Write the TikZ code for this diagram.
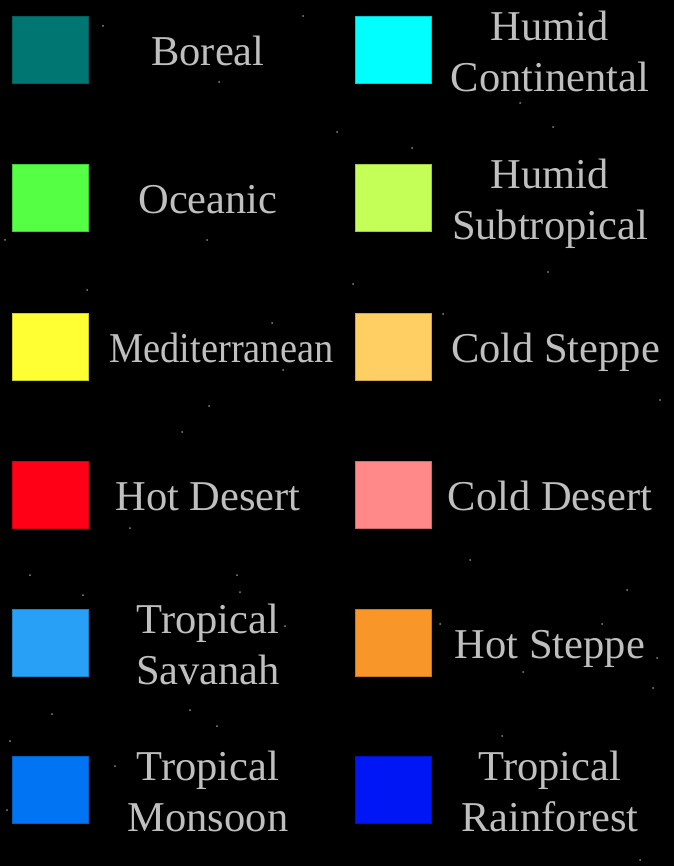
\documentclass[tikz,border=0pt]{standalone}
\usepackage{graphicx}
\usepackage{fontspec}
\setmainfont{Liberation Serif}
\usetikzlibrary{positioning}

\definecolor{boreal}{HTML}{007672}
\definecolor{humidcont}{HTML}{00FFFF}
\definecolor{oceanic}{HTML}{55FF44}
\definecolor{humidsub}{HTML}{C4FF58}
\definecolor{medit}{HTML}{FFFF33}
\definecolor{coldsteppe}{HTML}{FFCF64}
\definecolor{hotdesert}{HTML}{FF0016}
\definecolor{colddesert}{HTML}{FF8888}
\definecolor{savanah}{HTML}{28A0F5}
\definecolor{hotsteppe}{HTML}{F9962A}
\definecolor{monsoon}{HTML}{0074F2}
\definecolor{rainforest}{HTML}{0016F5}
\definecolor{lbltext}{HTML}{BFBFBF}
\definecolor{stargray}{HTML}{8A8A8A}

\begin{document}
\begin{tikzpicture}[
      x=1pt, y=1pt,
      font=\fontsize{42.5}{51}\selectfont,
      swatch/.style={draw=#1!80!black, fill=#1, line width=0.8pt, minimum width=76pt, minimum height=67pt, inner sep=0pt},
      lbl/.style={text=lbltext, align=center, inner sep=0pt, anchor=center, yshift=-5.5pt,
        execute at begin node=\strut, execute at end node=\strut},
      lbltwo/.style={lbl, yshift=-3.5pt},
      star/.style={fill=stargray, draw=none},
    ]
    \fill[black] (0,0) rectangle (674,-866);
    \useasboundingbox (0,0) rectangle (674,-866);

    % faint stars
    \foreach \sx/\sy in {103/26, 303/16, 219/82, 337/132, 520/103, 553/127, 412/148,
        5/240, 207/240, 87/290, 272/323, 283/370, 209/406, 443/314, 548/272, 353/284,
        182/432, 130/528, 30/575, 237/575, 83/595, 240/592, 285/626, 52/714, 190/710,
        217/726, 10/741, 115/766, 7/810, 627/590, 440/624, 602/624, 657/658, 523/672,
        653/688, 502/736, 600/20, 660/400, 470/560, 640/860}
      \fill[star] (\sx,-\sy) circle (1pt);

    % left column
    \node[swatch=boreal] (b1) at (50,-49.5) {};
    \node[lbl, right=158pt of b1.center, anchor=center] (l1) {Boreal};
    \node[swatch=oceanic] (b3) at (50,-198) {};
    \node[lbl, right=158pt of b3.center, anchor=center] (l3) {Oceanic};
    \node[swatch=medit] (b5) at (50,-346.5) {};
    \node[lbl, right=171.5pt of b5.center, anchor=center] (l5) {\scalebox{0.904}[1]{Mediterranean}};
    \node[swatch=hotdesert] (b7) at (50,-494.5) {};
    \node[lbl, right=158pt of b7.center, anchor=center] (l7) {Hot Desert};
    \node[swatch=savanah] (b9) at (50,-642.5) {};
    \node[lbltwo, right=158pt of b9.center, anchor=center] (l9) {Tropical\\Savanah};
    \node[swatch=monsoon] (b11) at (50,-789.5) {};
    \node[lbltwo, right=158pt of b11.center, anchor=center] (l11) {Tropical\\Monsoon};

    % right column
    \node[swatch=humidcont] (b2) at (393,-49.5) {};
    \node[lbltwo, right=157pt of b2.center, anchor=center] (l2) {Humid\\Continental};
    \node[swatch=humidsub] (b4) at (393,-198) {};
    \node[lbltwo, right=157pt of b4.center, anchor=center] (l4) {Humid\\Subtropical};
    \node[swatch=coldsteppe] (b6) at (393,-346.5) {};
    \node[lbl, right=162.5pt of b6.center, anchor=center] (l6) {Cold Steppe};
    \node[swatch=colddesert] (b8) at (393,-494.5) {};
    \node[lbl, right=157pt of b8.center, anchor=center] (l8) {Cold Desert};
    \node[swatch=hotsteppe] (b10) at (393,-642.5) {};
    \node[lbl, right=157pt of b10.center, anchor=center] (l10) {Hot Steppe};
    \node[swatch=rainforest] (b12) at (393,-789.5) {};
    \node[lbltwo, right=157pt of b12.center, anchor=center] (l12) {Tropical\\Rainforest};
  \end{tikzpicture}
\end{document}
